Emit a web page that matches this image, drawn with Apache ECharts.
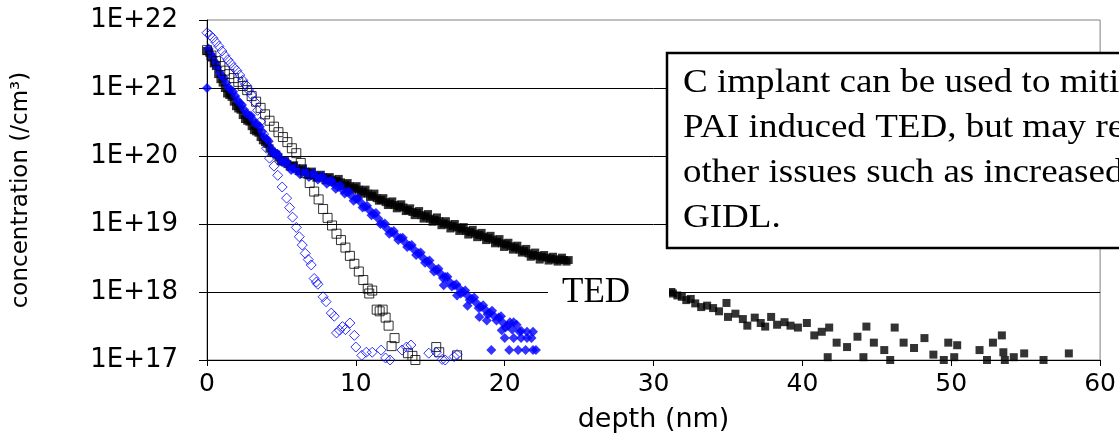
<!DOCTYPE html>
<html>
<head>
<meta charset="utf-8">
<script src="https://cdn.jsdelivr.net/npm/echarts@6/dist/echarts.min.js"></script>
<style>html,body{margin:0;padding:0;background:#fff}#c{width:1119px;height:443px}</style>
</head>
<body>
<div id="c"></div>
<script>
// ---- Data (depth in nm, concentration in /cm3) ----
// Black filled squares: PAI profile showing TED
const tedDepth = [0.0,0.3,0.6,0.9,1.2,1.5,1.8,2.1,2.4,2.7,3.0,3.3,3.6,3.9,4.2,4.5,4.8,5.1,5.4,5.7,6.0,6.3,6.6,6.9,7.2,7.5,7.8,8.1,8.4,8.7,9.0,9.3,9.6,9.9,10.2,10.5,10.8,11.1,11.4,11.7,12.0,12.3,12.6,12.9,13.2,13.5,13.8,14.1,14.4,14.7,15.0,15.3,15.6,15.9,16.2,16.5,16.8,17.1,17.4,17.7,18.0,18.3,18.6,18.9,19.2,19.5,19.8,20.1,20.4,20.7,21.0,21.3,21.6,21.9,22.2,22.5,22.8,23.1,23.4,23.7,24.0,24.3,
  0.15,0.45,0.75,1.05,1.35,1.65,1.95,2.25,2.55,2.85,3.15,3.45,3.75,4.05,4.35,4.65,4.95,5.25,5.55,5.85,6.15,6.45,6.75,7.05,7.35,7.65,7.95,8.25,8.55,8.85,9.15,9.45,9.75,10.05,10.35,10.65,10.95,11.25,11.55,11.85,12.15,12.45,12.75,13.05,13.35,13.65,13.95,14.25,14.55,14.85,15.15,15.45,15.75,16.05,16.35,16.65,16.95,17.25,17.55,17.85,18.15,18.45,18.75,19.05,19.35,19.65,19.95,20.25,20.55,20.85,21.15,21.45,21.75,22.05,22.35,22.65,22.95,23.25,23.55,23.85,24.15,
  31.2,31.3,31.6,31.9,32.2,32.5,32.8,33.2,33.6,34.0,34.4,34.9,35.0,35.5,36.0,36.3,36.8,37.2,37.5,37.9,38.3,38.8,39.2,39.7,40.3,40.8,41.3,41.8,41.7,42.3,43.0,43.7,44.3,44.1,44.8,45.5,45.9,46.2,46.8,47.5,48.2,48.8,49.5,49.8,50.4,50.2,51.9,52.4,52.8,53.4,53.5,53.6,54.2,54.9,56.2,57.9];
const tedConc = [3.5e21,2.8e21,2.1e21,1.35e21,1.0e21,7.9e20,6.3e20,5.0e20,4.0e20,3.3e20,2.75e20,2.3e20,1.9e20,1.6e20,1.3e20,1.1e20,9.5e19,8.3e19,7.6e19,7.1e19,6.6e19,6.3e19,5.9e19,5.6e19,5.2e19,5.0e19,4.9e19,4.7e19,4.5e19,4.3e19,4.1e19,3.8e19,3.6e19,3.4e19,3.2e19,3.0e19,2.8e19,2.6e19,2.4e19,2.25e19,2.1e19,2.0e19,1.9e19,1.8e19,1.75e19,1.6e19,1.5e19,1.45e19,1.35e19,1.3e19,1.2e19,1.15e19,1.1e19,1.02e19,9.8e18,9.3e18,8.9e18,8.5e18,7.9e18,7.6e18,7.2e18,6.9e18,6.5e18,6.2e18,5.9e18,5.5e18,5.2e18,5.0e18,4.7e18,4.5e18,4.2e18,4.0e18,3.7e18,3.5e18,3.4e18,3.3e18,3.2e18,3.1e18,3.0e18,3.0e18,2.95e18,2.95e18,
  3.3e21,2.3e21,1.6e21,1.2e21,8.3e20,7.4e20,5.4e20,4.8e20,3.5e20,3.2e20,2.4e20,2.2e20,1.7e20,1.5e20,1.15e20,1.05e20,8.4e19,8.4e19,7.0e19,7.3e19,6.0e19,6.6e19,5.3e19,5.9e19,4.8e19,5.3e19,4.4e19,4.9e19,4.1e19,4.6e19,3.6e19,4.0e19,3.2e19,3.6e19,2.8e19,3.2e19,2.5e19,2.8e19,2.2e19,2.4e19,1.9e19,2.15e19,1.7e19,1.95e19,1.55e19,1.7e19,1.35e19,1.55e19,1.2e19,1.4e19,1.08e19,1.25e19,9.6e18,1.1e19,8.6e18,1.0e19,7.9e18,9.0e18,7.0e18,8.2e18,6.4e18,7.4e18,5.8e18,6.7e18,5.2e18,6.0e18,4.6e18,5.3e18,4.2e18,4.8e18,3.8e18,4.3e18,3.3e18,3.8e18,3.0e18,3.5e18,2.9e18,3.3e18,2.8e18,3.2e18,2.8e18,
  1.0e18,9.5e17,8.9e17,8.5e17,7.6e17,7.9e17,6.8e17,6.0e17,6.3e17,5.8e17,5.2e17,6.9e17,4.3e17,4.8e17,4.0e17,3.2e17,4.2e17,3.5e17,3.1e17,4.3e17,3.3e17,3.6e17,3.2e17,3.0e17,3.5e17,2.3e17,2.6e17,3.0e17,1.1e17,1.8e17,1.55e17,2.2e17,3.1e17,1.1e17,1.8e17,1.4e17,1.0e17,3.0e17,1.8e17,1.5e17,2.1e17,1.2e17,1.0e17,1.8e17,1.65e17,1.1e17,1.4e17,1.0e17,1.8e17,2.3e17,1.3e17,1.0e17,1.1e17,1.25e17,1.0e17,1.25e17];

// Blue filled diamonds
const blueFilledDepth = [0.0,0.1,0.4,0.7,1.0,1.3,1.6,1.9,2.2,2.5,2.8,3.1,3.4,3.7,4.0,4.3,4.6,4.9,5.2,5.5,5.8,6.1,6.4,6.7,7.0,7.3,7.6,7.9,8.2,8.5,8.8,9.1,9.4,9.7,10.0,10.3,10.6,10.9,11.2,11.5,11.8,12.1,12.4,12.7,13.0,13.3,13.6,13.9,14.2,14.5,14.8,15.1,15.4,15.7,16.0,16.3,16.6,16.9,17.2,17.5,17.8,18.1,18.4,18.7,19.0,19.3,19.6,19.9,20.2,20.5,20.8,21.1,
  0.25,0.55,0.85,1.15,1.45,1.75,2.05,2.35,2.65,2.95,3.25,3.55,3.85,4.15,4.45,4.75,5.05,5.35,5.65,5.95,6.25,6.55,6.85,7.15,7.45,7.75,8.05,8.35,8.65,8.95,9.25,9.55,9.85,10.15,10.45,10.75,11.05,11.35,11.65,11.95,12.25,12.55,12.85,13.15,13.45,13.75,14.05,14.35,14.65,14.95,15.25,15.55,15.85,16.15,16.45,16.75,17.05,17.35,17.65,17.95,18.25,18.55,18.85,19.15,19.45,19.75,20.05,20.35,
  15.9,16.8,17.5,18.3,18.8,19.8,20.6,20.0,20.6,21.1,21.5,21.8,21.0,21.5,21.9,19.1,20.3,20.9,21.4,21.9,22.1];
const blueFilledConc = [1.0e21,3.8e21,2.8e21,2.0e21,1.5e21,1.17e21,9.5e20,7.6e20,6.0e20,4.8e20,4.0e20,3.4e20,2.9e20,2.3e20,1.8e20,1.3e20,1.1e20,9.3e19,8.1e19,7.1e19,6.5e19,6.0e19,5.8e19,5.5e19,5.2e19,5.0e19,4.8e19,4.5e19,4.2e19,3.9e19,3.5e19,3.2e19,2.95e19,2.6e19,2.35e19,2.1e19,1.8e19,1.6e19,1.4e19,1.2e19,1.0e19,8.5e18,7.6e18,6.8e18,6.2e18,5.4e18,4.8e18,4.2e18,3.7e18,3.2e18,2.8e18,2.4e18,2.1e18,1.86e18,1.66e18,1.4e18,1.26e18,1.15e18,1.0e18,8.9e17,7.9e17,6.9e17,6.0e17,5.5e17,4.9e17,4.4e17,4.2e17,3.5e17,3.2e17,2.8e17,3.3e17,2.7e17,
  3.2e21,2.4e21,1.7e21,1.4e21,1.0e21,8.8e20,6.6e20,5.6e20,4.2e20,3.9e20,3.0e20,2.7e20,1.9e20,1.65e20,1.1e20,1.07e20,8.1e19,8.3e19,6.2e19,6.8e19,5.4e19,6.2e19,4.9e19,5.6e19,4.5e19,5.1e19,3.9e19,4.4e19,3.3e19,3.7e19,2.8e19,3.0e19,2.2e19,2.4e19,1.75e19,1.85e19,1.35e19,1.45e19,1.0e19,1.02e19,7.2e18,7.9e18,5.8e18,6.3e18,4.6e18,4.9e18,3.5e18,3.8e18,2.7e18,2.9e18,2.0e18,2.2e18,1.6e18,1.68e18,1.2e18,1.3e18,9.5e17,1.05e18,7.6e17,8.3e17,5.8e17,6.4e17,4.7e17,5.3e17,3.8e17,4.4e17,3.0e17,3.6e17,
  1.26e18,8.9e17,6.3e17,4.3e17,3.8e17,2.75e17,3.6e17,2.1e17,2.1e17,2.1e17,2.1e17,2.1e17,2.6e17,2.6e17,2.6e17,1.4e17,1.4e17,1.4e17,1.4e17,1.4e17,1.4e17];

// Black open squares
const openSqDepth = [0.0,0.3,0.6,0.9,1.2,1.5,1.8,2.1,2.4,2.7,3.0,3.3,3.6,3.9,4.2,4.5,4.8,5.1,5.4,5.7,6.0,6.3,6.6,6.9,7.2,7.5,7.8,8.1,8.4,8.7,9.0,9.3,9.6,9.9,10.2,10.5,10.8,10.9,11.1,11.4,11.6,11.8,12.0,12.2,12.6,12.4,13.5,13.8,14.0,15.4,15.6,16.8];
const openSqConc = [3.6e21,3.0e21,2.5e21,2.1e21,1.8e21,1.6e21,1.4e21,1.23e21,1.07e21,9.3e20,7.6e20,6.3e20,5.1e20,4.1e20,3.3e20,2.7e20,2.24e20,1.9e20,1.6e20,1.3e20,1.1e20,7.9e19,5.6e19,4.0e19,3.0e19,2.3e19,1.66e19,1.23e19,9.5e18,7.2e18,5.8e18,4.5e18,3.4e18,2.6e18,2.0e18,1.5e18,1.12e18,9.5e17,1.05e18,5.5e17,5.2e17,5.5e17,4.2e17,3.2e17,2.1e17,1.6e17,1.26e17,1.15e17,1.0e17,1.55e17,1.3e17,1.17e17];

// Blue open diamonds
const openDiaDepth = [0.0,0.2,0.4,0.6,0.8,1.0,1.2,1.4,1.6,1.8,2.0,2.2,2.4,2.6,2.8,3.0,3.2,3.4,3.6,3.8,4.0,4.2,4.5,4.75,5.05,5.35,5.55,5.75,6.0,6.2,6.4,6.6,6.8,7.0,7.2,7.35,7.45,7.8,8.0,8.35,8.55,8.7,8.9,9.1,9.3,9.6,9.9,10.0,10.4,10.7,11.1,11.7,12.0,12.3,13.1,13.4,13.7,14.9,15.4,15.8,16.0,16.6,16.8];
const openDiaConc = [6.5e21,6.0e21,5.4e21,4.7e21,4.1e21,3.5e21,3.0e21,2.6e21,2.3e21,2.0e21,1.8e21,1.55e21,1.3e21,1.12e21,9.3e20,7.9e20,6.3e20,4.7e20,3.2e20,2.1e20,1.3e20,9.3e19,7.1e19,5.2e19,3.5e19,2.4e19,1.74e19,1.26e19,8.9e18,6.5e18,4.9e18,3.7e18,3.0e18,2.5e18,1.58e18,1.4e18,1.3e18,8.5e17,7.2e17,4.9e17,4.4e17,2.5e17,2.75e17,3.1e17,2.8e17,3.5e17,2.3e17,1.55e17,1.17e17,1.3e17,1.3e17,1.4e17,1.07e17,1.0e17,1.4e17,1.55e17,1.66e17,1.26e17,1.3e17,1.02e17,1.0e17,1.12e17,1.2e17];

const xTicks = [0,10,20,30,40,50,60];
const yTickExponents = [17,18,19,20,21,22];
const xTitle = 'depth (nm)';
const yTitle = 'concentration (/cm³)';
const noteLines = ['C implant can be used to mitigate','PAI induced TED, but may result in','other issues such as increased','GIDL.'];
const tedLabel = 'TED';

function pairs(xs, ys){ return xs.map((x,i)=>[x, ys[i]]); }

const chart = echarts.init(document.getElementById('c'), null, {renderer:'canvas'});
const axisFont = 'DejaVu Sans';
chart.setOption({
  animation: false,
  backgroundColor: '#fff',
  grid: {left: 207, top: 20, right: 16, bottom: 83, show: true, borderColor: '#808080', borderWidth: 1, backgroundColor: 'transparent'},
  xAxis: {
    type: 'value', min: xTicks[0], max: xTicks[xTicks.length-1], interval: 10,
    axisLine: {show: true, onZero: false, lineStyle: {color: '#000', width: 1}},
    axisTick: {show: true, inside: false, length: 6, lineStyle: {color: '#000'}},
    axisLabel: {color: '#000', fontFamily: axisFont, fontSize: 25, margin: 12},
    splitLine: {show: false},
    name: xTitle, nameLocation: 'middle', nameGap: 46,
    nameTextStyle: {color: '#000', fontFamily: axisFont, fontSize: 27}
  },
  yAxis: {
    type: 'log', logBase: 10, min: Math.pow(10, yTickExponents[0]), max: Math.pow(10, yTickExponents[yTickExponents.length-1]),
    axisLine: {show: true, lineStyle: {color: '#000', width: 1}},
    axisTick: {show: true, inside: false, length: 8, lineStyle: {color: '#000'}},
    axisLabel: {color: '#000', fontFamily: axisFont, fontSize: 26, margin: 29,
      formatter: v => '1E+' + Math.round(Math.log10(v))},
    splitLine: {show: true, showMaxLine: false, showMinLine: false, lineStyle: {color: '#000', width: 1}},
    name: yTitle, nameLocation: 'middle', nameGap: 174, nameRotate: 90,
    nameTextStyle: {color: '#000', fontFamily: axisFont, fontSize: 23}
  },
  series: [
    {name: 'PAI', type: 'scatter', data: pairs(tedDepth, tedConc), symbol: 'rect', symbolSize: 8,
      itemStyle: {color: '#000'}, z: 2},
    {name: 'PAI + C (filled)', type: 'scatter', data: pairs(blueFilledDepth, blueFilledConc), symbol: 'diamond', symbolSize: 10,
      itemStyle: {color: '#0000ff'}, z: 3},
    {name: 'as-implanted', type: 'scatter', data: pairs(openSqDepth, openSqConc), symbol: 'rect', symbolSize: 9,
      itemStyle: {color: 'rgba(0,0,0,0)', borderColor: '#000', borderWidth: 1}, z: 4},
    {name: 'PAI + C (open)', type: 'scatter', data: pairs(openDiaDepth, openDiaConc), symbol: 'diamond', symbolSize: 10,
      itemStyle: {color: 'rgba(0,0,0,0)', borderColor: '#0000ff', borderWidth: 1}, z: 5}
  ],
  graphic: [
    {type: 'rect', z: 100, shape: {x: 548, y: 272, width: 121, height: 42}, style: {fill: '#fff'}},
    {type: 'text', z: 101, x: 562, y: 293, style: {text: tedLabel, font: '35px "Liberation Serif"', fill: '#000', textVerticalAlign: 'middle'}},
    {type: 'rect', z: 100, shape: {x: 667, y: 53, width: 470, height: 195}, style: {fill: '#fff', stroke: '#000', lineWidth: 2.5}},
    {type: 'text', z: 101, x: 683, y: 61, scaleX: 1.09, scaleY: 1,
      style: {text: noteLines.join('\n'), font: '34px "Liberation Serif"', fill: '#000', lineHeight: 45, textVerticalAlign: 'top'}}
  ]
});
</script>
</body>
</html>
